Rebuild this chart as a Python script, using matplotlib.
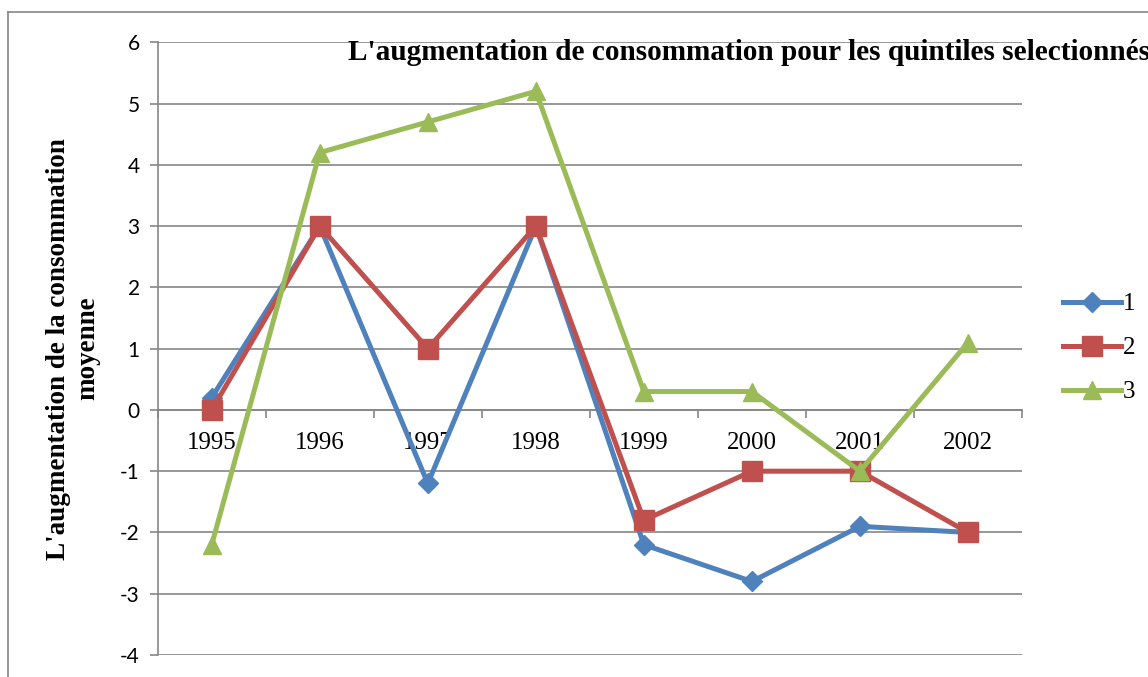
import matplotlib
matplotlib.use('Agg')
import matplotlib.pyplot as plt
from matplotlib.lines import Line2D

# data
years = ['1995', '1996', '1997', '1998', '1999', '2000', '2001', '2002']
serie1 = [0.2, 3, -1.2, 3, -2.2, -2.8, -1.9, -2]
serie2 = [0, 3, 1, 3, -1.8, -1, -1, -2]
serie3 = [-2.2, 4.2, 4.7, 5.2, 0.3, 0.3, -1, 1.1]
noms = ['1', '2', '3']

W, H = 1148, 677
fig = plt.figure(figsize=(W / 100, H / 100), dpi=100)

# chart border (cropped on the right and bottom)
fig.add_artist(Line2D([8 / W, 1], [1 - 12 / H, 1 - 12 / H], color='#868686', lw=1.2))
fig.add_artist(Line2D([8 / W, 8 / W], [0, 1 - 12 / H], color='#868686', lw=1.2))

left, right, top, bottom = 157.7, 1022, 42.3, 655
ax = fig.add_axes([left / W, 1 - bottom / H, (right - left) / W, (bottom - top) / H])

x = list(range(len(years)))
ax.plot(x, serie1, color='#4F81BD', lw=3.6, marker='D', ms=10, label=noms[0], zorder=3)
ax.plot(x, serie2, color='#C0504D', lw=3.6, marker='s', ms=14, label=noms[1], zorder=4)
ax.plot(x, serie3, color='#9BBB59', lw=3.6, marker='^', ms=13.5, label=noms[2], zorder=5)

ax.set_xlim(-0.5, len(years) - 0.5)
ax.set_ylim(-4, 6)
ax.set_yticks(range(-4, 7))
ax.set_yticklabels([str(v) for v in range(-4, 7)], family='Lato', fontsize=15)
ax.yaxis.grid(True, color='#868686', lw=1.2)
ax.set_axisbelow(True)

for s in ['top', 'right']:
    ax.spines[s].set_visible(False)
ax.spines['left'].set_color('#868686')
ax.spines['left'].set_linewidth(1.2)
ax.spines['bottom'].set_position(('data', 0))
ax.spines['bottom'].set_color('#868686')
ax.spines['bottom'].set_linewidth(1.2)

ax.set_xticks(x)
ax.set_xticklabels(years, family='Liberation Serif', fontsize=18)
ax.set_xticks([i - 0.5 for i in range(len(years) + 1)], minor=True)
ax.tick_params(axis='x', which='major', length=0, pad=16)
ax.tick_params(axis='x', which='minor', length=6, width=1.2, color='#868686', direction='out')
ax.tick_params(axis='y', length=6, width=1.2, color='#868686', pad=7)

ax.set_ylabel("L'augmentation de la consommation\nmoyenne", family='Liberation Serif',
              fontweight='bold', fontsize=19.5, labelpad=14, linespacing=1.25)

fig.text(348 / W, 1 - 53 / H, "L'augmentation de consommation pour les quintiles selectionnés",
         family='Liberation Serif', fontweight='bold', fontsize=21.1, ha='left', va='center')

fig.legend(loc='center left', bbox_to_anchor=(1053 / W, 1 - 348 / H), frameon=False,
           prop={'family': 'Liberation Serif', 'size': 18}, handlelength=2.3,
           handletextpad=0.1, labelspacing=0.86, borderaxespad=0)

fig.savefig('out.png', dpi=100)
